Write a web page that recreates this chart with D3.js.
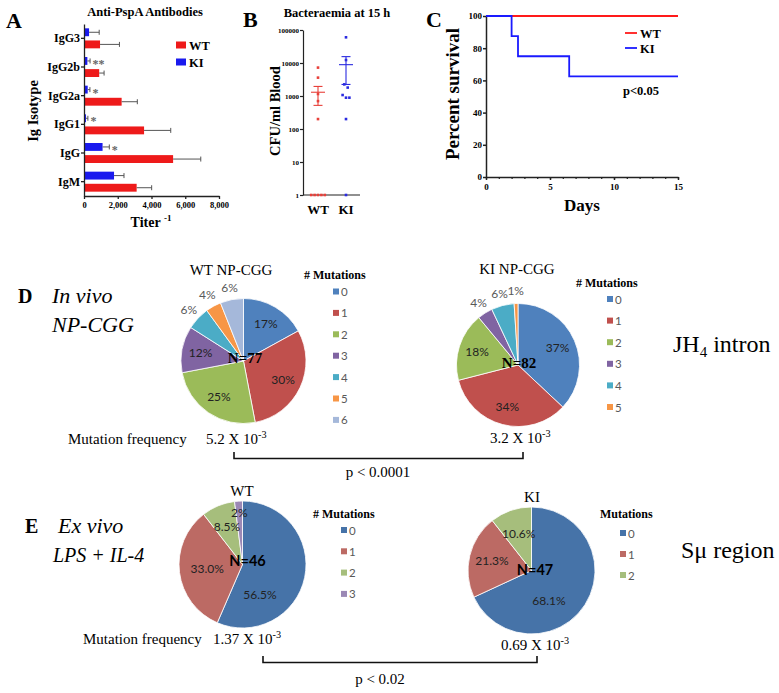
<!DOCTYPE html>
<html><head><meta charset="utf-8">
<script src="https://cdn.jsdelivr.net/npm/d3@7"></script>
<style>
body{margin:0;background:#fff}
svg{display:block}
text{font-family:"Liberation Serif","Times New Roman",serif}
.sans{font-family:Lato,"Open Sans",sans-serif}
</style>
</head><body>
<svg id="c" width="779" height="693"></svg>
<script>
// ---------- Panel A data ----------
const isotypes = ["IgG3","IgG2b","IgG2a","IgG1","IgG","IgM"];
const wtTiter = [950, 900, 2230, 3560, 5280, 3120];
const wtTiterErr = [1150, 290, 930, 1580, 1640, 890];
const kiTiter = [300, 200, 220, 120, 1100, 1780];
const kiTiterErr = [600, 160, 130, 110, 400, 590];
const sigMarks = ["", "**", "*", "*", "*", ""];
const titerTicks = [0, 2000, 4000, 6000, 8000];

// ---------- Panel B data ----------
const bGroups = ["WT", "KI"];
const wtCFU = [7250, 3600, 1150, 700, 200, 1, 1, 1, 1, 1];
const kiCFU = [60000, 12300, 2250, 1800, 1070, 890, 890, 200, 1];
const cfuMean = [1300, 8900];
const cfuSemLow = [520, 2240];
const cfuSemHigh = [1950, 15600];
const cfuTicks = [1, 10, 100, 1000, 10000, 100000];

// ---------- Panel C data ----------
const survDays = [0, 2, 2.5, 6.5, 15];
const wtSurv = [100, 100, 100, 100, 100];
const kiSurv = [100, 87.5, 75, 62.5, 62.5];
const survYTicks = [0, 20, 40, 60, 80, 100];
const survXTicks = [0, 5, 10, 15];

// ---------- Panel D / E data ----------
const mutClassesWTNP = ["0","1","2","3","4","5","6"];
const wtNP = [17, 30, 25, 12, 6, 4, 6];
const mutClassesKINP = ["0","1","2","3","4","5"];
const kiNP = [37, 34, 18, 4, 6, 1];
const mutClassesWTLPS = ["0","1","2","3"];
const wtLPS = [56.5, 33.0, 8.5, 2];
const wtLPSLabels = ["56.5%","33.0%","8.5%","2%"];
const mutClassesKILPS = ["0","1","2"];
const kiLPS = [68.1, 21.3, 10.6];
const kiLPSLabels = ["68.1%","21.3%","10.6%"];
const paletteD = ["#4F81BD","#C0504D","#9BBB59","#8064A2","#4BACC6","#F79646","#A5B8DA"];
const paletteE = ["#4673A8","#BC6A64","#A6BE7C","#9B88B5"];

const svg = d3.select("#c");
svg.append("rect").attr("width",779).attr("height",693).attr("fill","#fff");

function txt(x, y, s, size, opts = {}) {
  const t = svg.append("text").attr("x", x).attr("y", y).attr("font-size", size)
    .attr("fill", opts.fill || "#000").text(s);
  if (opts.bold) t.attr("font-weight", "bold");
  if (opts.italic) t.attr("font-style", "italic");
  if (opts.anchor) t.attr("text-anchor", opts.anchor);
  if (opts.cls) t.attr("class", opts.cls);
  return t;
}

// ================= Panel A =================
txt(6, 28, "A", 22, {bold: true});
txt(145, 16, "Anti-PspA Antibodies", 12.5, {bold: true, anchor: "middle"});
const xA = d3.scaleLinear().domain([0, 8000]).range([84, 219]);
const yA = d3.scaleBand().domain(isotypes).range([24, 196]);
const subA = d3.scaleBand().domain(["KI","WT"]).range([-10, 10]).paddingInner(0.35);
const gA = svg.append("g");
const aRows = isotypes.map((k, i) => ({k, i}));
[["KI", kiTiter, kiTiterErr, "#1a1aee"], ["WT", wtTiter, wtTiterErr, "#ee1a1a"]].forEach(([grp, vals, errs, col]) => {
  const g = gA.append("g");
  g.selectAll("rect").data(aRows).join("rect")
    .attr("x", xA(0)).attr("y", d => yA(d.k) + yA.bandwidth()/2 + subA(grp))
    .attr("width", d => xA(vals[d.i]) - xA(0)).attr("height", subA.bandwidth()).attr("fill", col);
  g.selectAll("line.e").data(aRows).join("line").attr("class","e")
    .attr("x1", d => xA(vals[d.i])).attr("x2", d => xA(vals[d.i] + errs[d.i]))
    .attr("y1", d => yA(d.k) + yA.bandwidth()/2 + subA(grp) + subA.bandwidth()/2)
    .attr("y2", d => yA(d.k) + yA.bandwidth()/2 + subA(grp) + subA.bandwidth()/2)
    .attr("stroke", "#555").attr("stroke-width", 1);
  g.selectAll("line.c").data(aRows).join("line").attr("class","c")
    .attr("x1", d => xA(vals[d.i] + errs[d.i])).attr("x2", d => xA(vals[d.i] + errs[d.i]))
    .attr("y1", d => yA(d.k) + yA.bandwidth()/2 + subA(grp) + subA.bandwidth()/2 - 2.5)
    .attr("y2", d => yA(d.k) + yA.bandwidth()/2 + subA(grp) + subA.bandwidth()/2 + 2.5)
    .attr("stroke", "#555").attr("stroke-width", 1);
});
gA.selectAll("text.sig").data(aRows.filter(d => sigMarks[d.i])).join("text").attr("class","sig")
  .attr("x", d => xA(kiTiter[d.i] + kiTiterErr[d.i]) + 2.5)
  .attr("y", d => yA(d.k) + yA.bandwidth()/2 + subA("KI") + subA.bandwidth()/2 + 7)
  .attr("font-size", 12).attr("font-weight", "bold").attr("fill", "#666").text(d => sigMarks[d.i]);
const axA_y = svg.append("g").attr("transform", `translate(${xA(0)},0)`)
  .call(d3.axisLeft(yA).tickSize(3).tickSizeOuter(0).tickPadding(1));
axA_y.selectAll("text").attr("font-size", 12).attr("font-weight", "bold")
  .attr("font-family", '"Liberation Serif",serif');
const axA_x = svg.append("g").attr("transform", `translate(0,196)`)
  .call(d3.axisBottom(xA).tickValues(titerTicks).tickFormat(d3.format(",")).tickSize(3).tickSizeOuter(0));
axA_x.selectAll("text").attr("font-size", 8.5).attr("font-weight", "bold")
  .attr("font-family", '"Liberation Serif",serif');
[axA_y, axA_x].forEach(a => a.selectAll("path,line").attr("stroke", "#222").attr("stroke-width", 1.3));
const tA = txt(151, 227, "Titer ", 14, {bold: true, anchor: "middle"});
tA.append("tspan").attr("font-size", 9).attr("dy", -6).text("-1");
txt(0, 0, "Ig Isotype", 14.5, {bold: true, anchor: "middle"})
  .attr("transform", "translate(38,111) rotate(-90)");
// legend A
[["WT", "#ee1a1a", 45], ["KI", "#1a1aee", 62]].forEach(([lab, col, y]) => {
  svg.append("rect").attr("x", 176).attr("y", y - 3.5).attr("width", 10).attr("height", 7).attr("fill", col);
  txt(189, y + 4.5, lab, 12.5, {bold: true});
});

// ================= Panel B =================
txt(243, 27, "B", 22, {bold: true});
txt(337, 17, "Bacteraemia at 15 h", 12.5, {bold: true, anchor: "middle"});
const yB = d3.scaleLog().domain([1, 100000]).range([195, 30]);
const xB = d3.scalePoint().domain(bGroups).range([318, 346]);
const axB_y = svg.append("g").attr("transform", "translate(303,0)")
  .call(d3.axisLeft(yB).tickValues(cfuTicks).tickFormat(d3.format("d")).tickSize(3).tickSizeOuter(0).tickPadding(1));
axB_y.selectAll("text").attr("font-size", 7).attr("font-weight", "bold").attr("font-family", '"Liberation Serif",serif');
axB_y.selectAll("path,line").attr("stroke", "#222").attr("stroke-width", 1.2);
svg.append("line").attr("x1", 303).attr("x2", 360).attr("y1", yB(1)).attr("y2", yB(1))
  .attr("stroke", "#222").attr("stroke-width", 1.2);
bGroups.forEach(gname => txt(xB(gname), 214, gname, 13, {bold: true, anchor: "middle"}));
txt(0, 0, "CFU/ml Blood", 14.5, {bold: true, anchor: "middle"})
  .attr("transform", "translate(280,111) rotate(-90)");
function swarm(vals, cx) {
  const pts = vals.map(v => ({v, y: yB(v)})).sort((a, b) => a.y - b.y);
  const groups = [];
  pts.forEach(p => {
    const last = groups[groups.length - 1];
    if (last && Math.abs(p.y - last[0].y) < 4) last.push(p); else groups.push([p]);
  });
  groups.forEach(gp => gp.forEach((p, i) => { p.x = cx + (i - (gp.length - 1) / 2) * 3.4; }));
  return pts;
}
[[wtCFU, "#e8403a", 0], [kiCFU, "#2a2ae0", 1]].forEach(([vals, col, gi]) => {
  const cx = xB(bGroups[gi]);
  svg.append("g").selectAll("rect").data(swarm(vals, cx)).join("rect")
    .attr("x", d => d.x - 1.3).attr("y", d => d.y - 1.3).attr("width", 2.6).attr("height", 2.6).attr("fill", col);
  const g = svg.append("g").attr("stroke", col).attr("stroke-width", 1.1);
  g.append("line").attr("x1", cx - 7).attr("x2", cx + 7).attr("y1", yB(cfuMean[gi])).attr("y2", yB(cfuMean[gi]));
  g.append("line").attr("x1", cx).attr("x2", cx).attr("y1", yB(cfuSemLow[gi])).attr("y2", yB(cfuSemHigh[gi]));
  [cfuSemLow[gi], cfuSemHigh[gi]].forEach(v =>
    g.append("line").attr("x1", cx - 4.5).attr("x2", cx + 4.5).attr("y1", yB(v)).attr("y2", yB(v)));
});

// ================= Panel C =================
txt(426, 27, "C", 22, {bold: true});
const xC = d3.scaleLinear().domain([0, 15]).range([486, 678]);
const yC = d3.scaleLinear().domain([0, 100]).range([177, 16]);
const axC_y = svg.append("g").attr("transform", `translate(${xC(0)},0)`)
  .call(d3.axisLeft(yC).tickValues(survYTicks).tickSize(3).tickSizeOuter(0).tickPadding(1));
const axC_x = svg.append("g").attr("transform", `translate(0,${yC(0)})`)
  .call(d3.axisBottom(xC).tickValues(survXTicks).tickSize(3).tickSizeOuter(0).tickPadding(4));
svg.append("g").attr("transform", `translate(0,${yC(0)})`)
  .call(d3.axisBottom(xC).tickValues(d3.range(0, 16)).tickSize(2).tickFormat("").tickSizeOuter(0))
  .selectAll("path,line").attr("stroke", "#222").attr("stroke-width", 1.2);
[axC_y, axC_x].forEach(a => {
  a.selectAll("text").attr("font-size", 9).attr("font-weight", "bold").attr("font-family", '"Liberation Serif",serif');
  a.selectAll("path,line").attr("stroke", "#222").attr("stroke-width", 1.5);
});
const survLine = d3.line().x(d => xC(d[0])).y(d => yC(d[1])).curve(d3.curveStepAfter);
svg.append("path").attr("d", survLine(survDays.map((d, i) => [d, wtSurv[i]])))
  .attr("fill", "none").attr("stroke", "#ff1a1a").attr("stroke-width", 1.8);
svg.append("path").attr("d", survLine(survDays.map((d, i) => [d, kiSurv[i]])))
  .attr("fill", "none").attr("stroke", "#1a1aff").attr("stroke-width", 1.8);
[["WT", "#ff1a1a", 33], ["KI", "#1a1aff", 48]].forEach(([lab, col, y]) => {
  svg.append("line").attr("x1", 625).attr("x2", 637).attr("y1", y).attr("y2", y).attr("stroke", col).attr("stroke-width", 1.8);
  txt(640, y + 4.5, lab, 12.5, {bold: true});
});
txt(623, 95, "p<0.05", 12.5, {bold: true});
txt(582, 211, "Days", 17, {bold: true, anchor: "middle"});
txt(0, 0, "Percent survival", 19, {bold: true, anchor: "middle"})
  .attr("transform", "translate(459,94) rotate(-90)");

// ================= Pies =================
function drawPie(cx, cy, r, vals, labels, colors, cfg) {
  const arcs = d3.pie().sort(null).value(d => d)(vals);
  const g = svg.append("g").attr("transform", `translate(${cx},${cy})`);
  const arc = d3.arc().innerRadius(0).outerRadius(r);
  g.selectAll("path").data(arcs).join("path").attr("d", arc)
    .attr("fill", (d, i) => colors[i]).attr("stroke", "#fff").attr("stroke-width", 0.8);
  arcs.forEach((a, i) => {
    const outside = cfg.outsideBelow !== undefined && vals[i] < cfg.outsideBelow;
    let ang = (a.startAngle + a.endAngle) / 2;
    let f;
    if (outside) f = 1.2;
    else if (vals[i] > 50) { ang = Math.PI * 5 / 6; f = 0.55; }
    else f = cfg.labelR(vals[i]);
    const x = Math.sin(ang) * r * f, y = -Math.cos(ang) * r * f;
    g.append("text").attr("class", "sans").attr("x", x).attr("y", y + 4.2)
      .attr("text-anchor", "middle").attr("font-size", 12)
      .attr("fill", outside ? "#595959" : "#222").text(labels[i]);
  });
  return g;
}
function supText(x, y, base, sup, size, anchor) {
  const t = txt(x, y, base, size, {anchor: anchor || "start"});
  t.append("tspan").attr("dy", -6).attr("font-size", size * 0.68).text(sup);
  return t;
}

// Panel D
txt(18, 303, "D", 20, {bold: true});
txt(52, 303, "In vivo", 22, {italic: true});
txt(52, 332, "NP-CGG", 22, {italic: true});
txt(231, 275, "WT NP-CGG", 15, {anchor: "middle"});
drawPie(243.5, 361, 62.5, wtNP, wtNP.map(v => v + "%"), paletteD, {outsideBelow: 10, labelR: () => 0.7});
txt(245, 363, "N=77", 15, {bold: true, anchor: "middle"});
txt(304, 279, "# Mutations", 12, {bold: true});
mutClassesWTNP.forEach((c, i) => {
  svg.append("rect").attr("x", 333).attr("y", 291.5 + i * 21.4 - 3).attr("width", 6).attr("height", 6).attr("fill", paletteD[i]);
  txt(341, 291.5 + i * 21.4 + 4.5, c, 11.5, {cls: "sans", fill: "#595959"});
});
txt(517, 274, "KI NP-CGG", 15, {anchor: "middle"});
drawPie(518, 365, 61.5, kiNP, kiNP.map(v => v + "%"), paletteD, {outsideBelow: 10, labelR: () => 0.7});
txt(519, 368, "N=82", 15, {bold: true, anchor: "middle"});
txt(576, 287, "# Mutations", 12, {bold: true});
mutClassesKINP.forEach((c, i) => {
  svg.append("rect").attr("x", 607).attr("y", 299 + i * 21.6 - 3).attr("width", 6).attr("height", 6).attr("fill", paletteD[i]);
  txt(615, 299 + i * 21.6 + 4.5, c, 11.5, {cls: "sans", fill: "#595959"});
});
const jh = txt(673, 352, "JH", 24);
jh.append("tspan").attr("dy", 5).attr("font-size", 15).text("4");
jh.append("tspan").attr("dy", -5).text(" intron");
txt(68, 444, "Mutation frequency", 15);
supText(206, 444, "5.2 X 10", "-3", 15);
supText(490, 443, "3.2 X 10", "-3", 15);
svg.append("path").attr("fill", "none").attr("stroke", "#111").attr("stroke-width", 1.6)
  .attr("d", d3.line()([[234, 452], [234, 458.5], [523, 458.5], [523, 452]]));
txt(378, 477, "p < 0.0001", 15, {anchor: "middle"});

// Panel E
txt(25, 533, "E", 20, {bold: true});
txt(58, 533, "Ex vivo", 22, {italic: true});
txt(53, 562, "LPS + IL-4", 20, {italic: true});
txt(242, 496, "WT", 15, {anchor: "middle"});
drawPie(242.5, 564.5, 63.5, wtLPS, wtLPSLabels, paletteE,
  {labelR: v => v < 5 ? 0.82 : (v < 10 ? 0.64 : 0.56)});
txt(247.5, 566, "N=46", 14.5, {bold: true, anchor: "middle", cls: "sans"});
txt(313, 518, "# Mutations", 12, {bold: true});
mutClassesWTLPS.forEach((c, i) => {
  svg.append("rect").attr("x", 341).attr("y", 530 + i * 21.3 - 3).attr("width", 6).attr("height", 6).attr("fill", paletteE[i]);
  txt(349, 530 + i * 21.3 + 4.5, c, 11.5, {cls: "sans", fill: "#595959"});
});
txt(532, 502, "KI", 15, {anchor: "middle"});
drawPie(531.5, 570.5, 63.5, kiLPS, kiLPSLabels, paletteE,
  {labelR: v => v < 5 ? 0.8 : (v < 15 ? 0.62 : 0.64)});
txt(535, 575, "N=47", 14.5, {bold: true, anchor: "middle", cls: "sans"});
txt(600, 518, "Mutations", 12, {bold: true});
mutClassesKILPS.forEach((c, i) => {
  svg.append("rect").attr("x", 620).attr("y", 533 + i * 21 - 3).attr("width", 6).attr("height", 6).attr("fill", paletteE[i]);
  txt(628, 533 + i * 21 + 4.5, c, 11.5, {cls: "sans", fill: "#595959"});
});
txt(681, 558, "Sμ region", 24);
txt(83, 644, "Mutation frequency", 15);
supText(213, 644, "1.37 X 10", "-3", 15);
supText(501, 650, "0.69 X 10", "-3", 15);
svg.append("path").attr("fill", "none").attr("stroke", "#111").attr("stroke-width", 1.6)
  .attr("d", d3.line()([[263, 656], [263, 662.5], [537, 662.5], [537, 656]]));
txt(380, 684, "p < 0.02", 15, {anchor: "middle"});
</script>
</body></html>
